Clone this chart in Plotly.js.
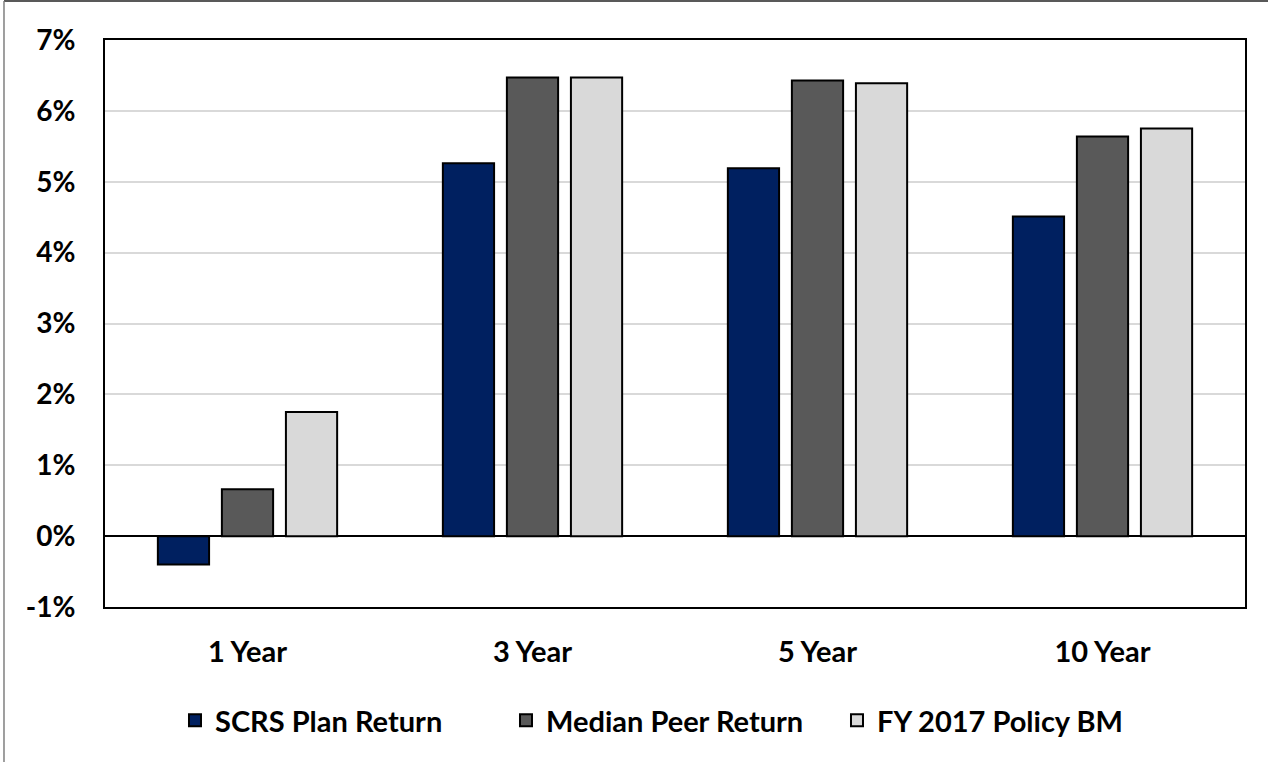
<!DOCTYPE html>
<html>
<head>
<meta charset="utf-8">
<script src="https://cdn.plot.ly/plotly-3.0.1.min.js"></script>
<style>
html,body{margin:0;padding:0;background:#fff;}
#chart{width:1268px;height:762px;}
</style>
</head>
<body>
<div id="chart"></div>
<script>
const categories = ["1 Year", "3 Year", "5 Year", "10 Year"];
const seriesNames = ["SCRS Plan Return", "Median Peer Return", "FY 2017 Policy BM"];
const scrsPlan = [-0.40, 5.26, 5.19, 4.51];
const medianPeer = [0.66, 6.47, 6.43, 5.64];
const policyBM = [1.75, 6.47, 6.39, 5.75];
const yTickVals = [-1, 0, 1, 2, 3, 4, 5, 6, 7];
const yTickText = ["-1%", "0%", "1%", "2%", "3%", "4%", "5%", "6%", "7%"];

const colors = ["#002060", "#595959", "#d9d9d9"];
const values = [scrsPlan, medianPeer, policyBM];
const fontFam = "Lato, 'Open Sans', sans-serif";

const traces = values.map((v, i) => ({
  type: "bar",
  name: seriesNames[i],
  x: categories,
  y: v,
  marker: {color: colors[i], line: {color: "#000000", width: 2}},
  hoverinfo: "x+y+name"
}));

const layout = {
  width: 1268, height: 762,
  margin: {l: 105, r: 23, t: 40, b: 155},
  paper_bgcolor: "#ffffff",
  plot_bgcolor: "#ffffff",
  barmode: "group",
  bargap: 0.326,
  bargroupgap: 0.2,
  showlegend: true,
  legend: {
    orientation: "h",
    x: 0.0614, xanchor: "left",
    y: -0.2, yanchor: "middle",
    font: {family: fontFam, size: 29, color: "#000000", weight: 700},
    itemwidth: 30,
    entrywidth: 286, entrywidthmode: "pixels",
    traceorder: "normal"
  },
  font: {family: fontFam, color: "#000000"},
  xaxis: {
    type: "category",
    showgrid: false,
    zeroline: false,
    showline: true, linecolor: "#000000", linewidth: 2, mirror: true,
    ticks: "", ticklabelstandoff: 18,
    tickfont: {family: fontFam, size: 29, color: "#000000", weight: 700}
  },
  yaxis: {
    range: [-1, 7],
    tickvals: yTickVals,
    ticktext: yTickText,
    showgrid: true, gridcolor: "#d9d9d9", gridwidth: 2,
    zeroline: true, zerolinecolor: "#000000", zerolinewidth: 1.5,
    showline: true, linecolor: "#000000", linewidth: 2, mirror: true,
    ticks: "", ticklabelstandoff: 22,
    tickfont: {family: fontFam, size: 28, color: "#000000", weight: 700},
    fixedrange: true
  },
  shapes: [
    {type: "line", xref: "paper", yref: "paper", x0: -0.0886, x1: 1.03, y0: 1.0688, y1: 1.0688,
     line: {color: "#595959", width: 2}},
    {type: "line", xref: "paper", yref: "paper", x0: -0.0886, x1: -0.0886, y0: 1.0688, y1: -0.28,
     line: {color: "#7f7f7f", width: 1.5}}
  ]
};

Plotly.newPlot("chart", traces, layout, {displayModeBar: false, staticPlot: true});
</script>
</body>
</html>
